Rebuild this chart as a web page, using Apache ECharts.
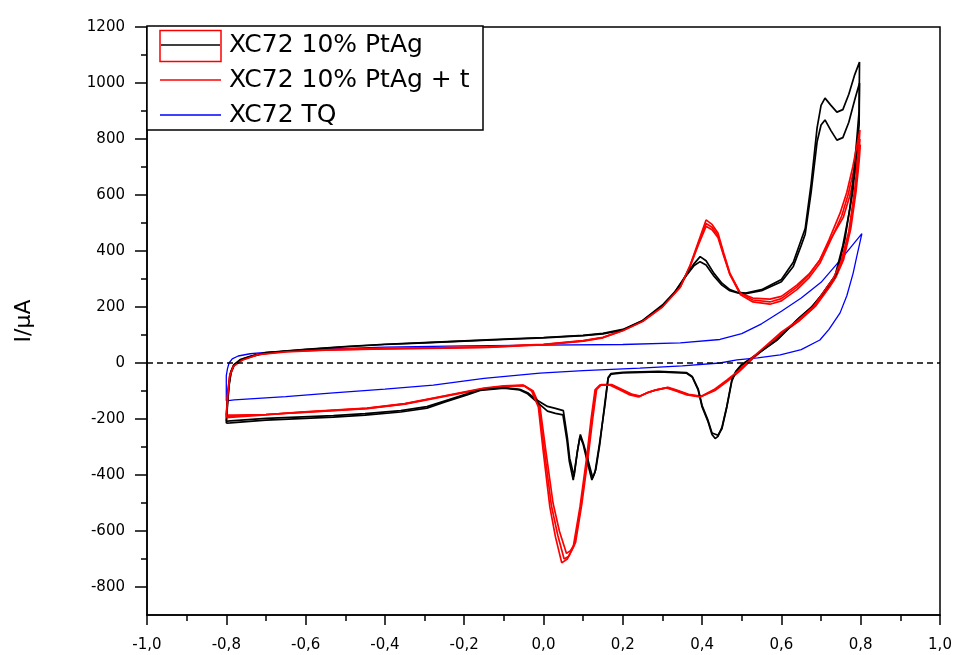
<!DOCTYPE html>
<html>
<head>
<meta charset="utf-8">
<script src="https://cdn.jsdelivr.net/npm/echarts@6/dist/echarts.min.js"></script>
<style>
  html, body { margin: 0; padding: 0; background: #fff; }
  #chart { width: 955px; height: 655px; }
</style>
</head>
<body>
<div id="chart"></div>
<script>
// Cyclic voltammograms: potential (V) vs current I (µA)
const seriesNames = ['XC72 10% PtAg', 'XC72 10% PtAg + t', 'XC72 TQ'];

const xTickValues = [-1, -0.8, -0.6, -0.4, -0.2, 0, 0.2, 0.4, 0.6, 0.8, 1];
const xTickLabels = ['-1,0', '-0,8', '-0,6', '-0,4', '-0,2', '0,0', '0,2', '0,4', '0,6', '0,8', '1,0'];
const yTickValues = [-800, -600, -400, -200, 0, 200, 400, 600, 800, 1000, 1200];
const yTickLabels = ['-800', '-600', '-400', '-200', '0', '200', '400', '600', '800', '1000', '1200'];

// XC72 10% PtAg, cycle 1 (anodic sweep then cathodic sweep)
const pta1 = [
  [-0.800,-215],[-0.797,-150],[-0.793,-80],[-0.788,-35],[-0.780,-8],[-0.765,10],[-0.740,22],[-0.700,36],
  [-0.600,48],[-0.500,58],[-0.400,66],[-0.300,72],[-0.200,78],[-0.100,84],[0.000,90],[0.100,98],
  [0.150,104],[0.200,118],[0.250,150],[0.300,205],[0.330,250],[0.360,315],[0.380,355],[0.395,380],
  [0.410,365],[0.430,320],[0.450,285],[0.470,262],[0.490,252],[0.510,250],[0.550,262],[0.600,298],
  [0.630,360],[0.650,440],[0.660,480],[0.675,640],[0.690,840],[0.700,920],[0.710,946],[0.725,920],
  [0.740,896],[0.755,905],[0.770,960],[0.785,1030],[0.797,1075],
  [0.800,1070],[0.796,900],[0.790,796],[0.780,640],[0.773,557],[0.760,440],[0.740,321],[0.705,250],
  [0.680,205],[0.647,164],[0.589,82],[0.528,21],[0.500,-5],[0.485,-30],[0.475,-60],[0.462,-157],
  [0.450,-230],[0.440,-262],[0.433,-270],[0.425,-255],[0.415,-210],[0.400,-157],[0.390,-96],[0.375,-50],
  [0.360,-36],[0.290,-32],[0.200,-35],[0.170,-40],[0.163,-55],[0.155,-150],[0.140,-300],[0.130,-390],
  [0.122,-418],[0.110,-350],[0.100,-290],[0.092,-262],[0.085,-320],[0.075,-418],[0.065,-350],[0.059,-275],
  [0.049,-185],[0.030,-180],[0.010,-172],[-0.017,-139],[-0.040,-110],[-0.060,-96],[-0.100,-90],[-0.160,-98],
  [-0.193,-114],[-0.250,-140],[-0.294,-161],[-0.360,-175],[-0.450,-186],[-0.530,-193],[-0.700,-204],
  [-0.790,-214],[-0.800,-215]
];

// XC72 10% PtAg, cycle 2
const pta2 = [
  [-0.800,-208],[-0.797,-140],[-0.793,-75],[-0.788,-30],[-0.780,-5],[-0.765,12],[-0.740,24],[-0.700,37],
  [-0.600,49],[-0.500,59],[-0.400,67],[-0.300,73],[-0.200,79],[-0.100,85],[0.000,91],[0.100,99],
  [0.150,106],[0.200,120],[0.250,152],[0.300,207],[0.330,252],[0.360,312],[0.380,348],[0.395,362],
  [0.410,350],[0.430,310],[0.450,278],[0.470,258],[0.490,250],[0.510,248],[0.550,258],[0.600,290],
  [0.630,345],[0.650,420],[0.660,460],[0.675,610],[0.690,790],[0.700,850],[0.710,868],[0.725,830],
  [0.740,796],[0.755,805],[0.770,860],[0.785,940],[0.797,1000],
  [0.800,995],[0.796,850],[0.790,760],[0.780,610],[0.770,530],[0.755,420],[0.735,310],[0.700,240],
  [0.675,198],[0.640,155],[0.585,78],[0.525,18],[0.500,-8],[0.485,-32],[0.475,-65],[0.462,-160],
  [0.450,-235],[0.440,-258],[0.435,-262],[0.425,-250],[0.415,-205],[0.400,-152],[0.390,-92],[0.375,-48],
  [0.360,-34],[0.290,-30],[0.200,-33],[0.170,-38],[0.163,-52],[0.155,-140],[0.142,-290],[0.132,-380],
  [0.124,-410],[0.112,-345],[0.100,-285],[0.093,-255],[0.086,-310],[0.077,-405],[0.066,-340],[0.060,-265],
  [0.050,-170],[0.030,-162],[0.010,-155],[-0.017,-132],[-0.040,-106],[-0.060,-94],[-0.100,-88],[-0.160,-95],
  [-0.193,-110],[-0.250,-136],[-0.294,-156],[-0.360,-170],[-0.450,-181],[-0.530,-188],[-0.700,-198],
  [-0.790,-207],[-0.800,-208]
];

// XC72 10% PtAg + t, cycles 1-3
const ptat1 = [
  [-0.800,-195],[-0.796,-110],[-0.791,-45],[-0.782,-12],[-0.760,10],[-0.720,30],[-0.650,40],[-0.550,46],
  [-0.400,50],[-0.250,53],[-0.140,56],[-0.050,62],[0.000,65],[0.100,78],[0.150,90],[0.200,115],
  [0.250,148],[0.300,200],[0.345,271],[0.370,350],[0.390,430],[0.410,511],[0.425,495],[0.440,464],
  [0.455,390],[0.470,321],[0.496,250],[0.528,225],[0.571,218],[0.600,230],[0.639,271],[0.670,315],
  [0.697,368],[0.720,440],[0.748,535],[0.765,610],[0.780,700],[0.798,832],
  [0.800,835],[0.795,760],[0.785,620],[0.770,470],[0.750,360],[0.730,300],[0.715,271],[0.680,200],
  [0.640,150],[0.597,107],[0.560,60],[0.528,21],[0.513,0],[0.490,-30],[0.462,-61],[0.430,-95],
  [0.395,-121],[0.362,-114],[0.330,-98],[0.310,-89],[0.280,-98],[0.260,-107],[0.240,-121],[0.218,-114],
  [0.193,-96],[0.168,-79],[0.142,-79],[0.130,-96],[0.120,-200],[0.109,-336],[0.092,-514],[0.075,-657],
  [0.060,-700],[0.046,-714],[0.030,-620],[0.016,-514],[-0.001,-311],[-0.013,-157],[-0.030,-100],[-0.052,-79],
  [-0.100,-82],[-0.150,-90],[-0.278,-125],[-0.350,-145],[-0.445,-161],[-0.614,-175],[-0.700,-185],
  [-0.783,-193],[-0.800,-195]
];
const ptat2 = [
  [-0.800,-190],[-0.796,-105],[-0.791,-42],[-0.782,-10],[-0.760,12],[-0.720,31],[-0.650,41],[-0.550,47],
  [-0.400,51],[-0.250,54],[-0.140,57],[-0.050,63],[0.000,66],[0.100,79],[0.150,91],[0.200,116],
  [0.250,150],[0.300,202],[0.345,272],[0.370,348],[0.390,425],[0.410,498],[0.425,485],[0.440,455],
  [0.455,385],[0.470,318],[0.496,245],[0.528,218],[0.571,210],[0.600,222],[0.639,262],[0.670,305],
  [0.697,356],[0.720,425],[0.752,525],[0.768,600],[0.783,690],[0.798,800],
  [0.800,800],[0.795,735],[0.786,610],[0.772,470],[0.753,360],[0.733,300],[0.718,268],[0.683,200],
  [0.643,150],[0.600,106],[0.563,60],[0.530,20],[0.515,0],[0.492,-30],[0.464,-62],[0.432,-96],
  [0.397,-120],[0.364,-113],[0.332,-97],[0.312,-88],[0.282,-97],[0.262,-106],[0.242,-119],[0.220,-112],
  [0.195,-95],[0.170,-78],[0.144,-78],[0.132,-95],[0.122,-200],[0.111,-336],[0.094,-514],[0.078,-650],
  [0.064,-690],[0.052,-700],[0.036,-615],[0.020,-510],[0.002,-311],[-0.011,-157],[-0.028,-100],[-0.050,-80],
  [-0.100,-83],[-0.150,-91],[-0.278,-126],[-0.350,-146],[-0.445,-162],[-0.614,-176],[-0.700,-184],
  [-0.783,-190],[-0.800,-190]
];
const ptat3 = [
  [-0.800,-185],[-0.796,-100],[-0.791,-40],[-0.782,-8],[-0.760,13],[-0.720,32],[-0.650,42],[-0.550,48],
  [-0.400,52],[-0.250,55],[-0.140,58],[-0.050,64],[0.000,67],[0.100,80],[0.150,92],[0.200,117],
  [0.250,151],[0.300,203],[0.345,272],[0.370,346],[0.390,420],[0.410,488],[0.425,476],[0.440,448],
  [0.455,380],[0.470,316],[0.496,250],[0.528,232],[0.571,228],[0.600,238],[0.639,278],[0.670,318],
  [0.697,368],[0.720,432],[0.756,520],[0.772,595],[0.786,680],[0.799,780],
  [0.801,780],[0.796,720],[0.788,610],[0.775,480],[0.757,370],[0.737,305],[0.722,272],[0.686,203],
  [0.646,152],[0.603,108],[0.566,62],[0.532,21],[0.516,0],[0.494,-30],[0.466,-63],[0.434,-97],
  [0.399,-119],[0.366,-112],[0.334,-96],[0.314,-87],[0.284,-96],[0.264,-105],[0.244,-118],[0.222,-111],
  [0.197,-94],[0.172,-77],[0.146,-77],[0.134,-94],[0.124,-200],[0.113,-330],[0.097,-500],[0.081,-640],
  [0.068,-670],[0.058,-680],[0.040,-600],[0.024,-500],[0.005,-305],[-0.009,-155],[-0.026,-100],[-0.048,-81],
  [-0.100,-84],[-0.150,-92],[-0.278,-127],[-0.350,-147],[-0.445,-163],[-0.614,-177],[-0.700,-184],
  [-0.783,-186],[-0.800,-185]
];

// XC72 TQ, single cycle
const tq = [
  [-0.800,-45],[-0.797,-20],[-0.793,0],[-0.785,15],[-0.770,25],[-0.740,33],[-0.700,38],[-0.600,46],
  [-0.500,52],[-0.400,57],[-0.200,61],[0.000,64],[0.200,66],[0.345,72],[0.445,84],[0.500,105],
  [0.550,140],[0.600,185],[0.650,232],[0.700,288],[0.750,370],[0.803,462],
  [0.800,455],[0.790,380],[0.781,321],[0.765,240],[0.748,179],[0.720,120],[0.697,82],[0.650,48],
  [0.597,29],[0.540,18],[0.488,11],[0.445,0],[0.350,-10],[0.243,-18],[0.100,-27],[-0.009,-36],
  [-0.150,-55],[-0.278,-79],[-0.400,-93],[-0.530,-107],[-0.650,-120],[-0.780,-132],[-0.800,-135],
  [-0.800,-45]
];

const seriesColors = ['#000000', '#ff0000', '#0000ff'];

function cvSeries(name, data, color, width) {
  return {
    name: name,
    type: 'line',
    xAxisIndex: 0,
    yAxisIndex: 0,
    data: data,
    showSymbol: false,
    symbol: 'none',
    smooth: false,
    animation: false,
    lineStyle: { color: color, width: width },
    itemStyle: { color: color },
    emphasis: { disabled: true }
  };
}

const tickFont = { fontFamily: 'DejaVu Sans', fontSize: 15, color: '#000' };

const series = [
  cvSeries(seriesNames[2], tq, seriesColors[2], 1.3),
  cvSeries(seriesNames[1], ptat3, seriesColors[1], 1.7),
  cvSeries(seriesNames[1], ptat2, seriesColors[1], 1.7),
  cvSeries(seriesNames[0], pta2, seriesColors[0], 1.7),
  cvSeries(seriesNames[0], pta1, seriesColors[0], 1.7),
  cvSeries(seriesNames[1], ptat1, seriesColors[1], 1.7)
];
// zero-current reference line
series[0].markLine = {
  silent: true,
  symbol: 'none',
  label: { show: false },
  animation: false,
  lineStyle: { color: '#000', width: 1.5, type: [6, 4] },
  data: [{ yAxis: 0 }]
};

// Legend drawn as a framed box in the upper-left corner of the plot
const legendLeft = 147, legendTop = 26, rowY = [45, 80, 115];
const legendGraphics = [
  { type: 'rect', z: 100, shape: { x: legendLeft, y: legendTop, width: 336, height: 104 },
    style: { fill: '#fff', stroke: '#000', lineWidth: 1.5 } },
  { type: 'rect', z: 101, shape: { x: 160, y: 30.5, width: 61, height: 31 },
    style: { fill: null, stroke: '#ff0000', lineWidth: 1.5 } },
  { type: 'line', z: 101, shape: { x1: 161, y1: rowY[0], x2: 220, y2: rowY[0] },
    style: { stroke: seriesColors[0], lineWidth: 1.5 } },
  { type: 'line', z: 101, shape: { x1: 160, y1: rowY[1], x2: 221, y2: rowY[1] },
    style: { stroke: seriesColors[1], lineWidth: 1.5 } },
  { type: 'line', z: 101, shape: { x1: 160, y1: rowY[2], x2: 221, y2: rowY[2] },
    style: { stroke: seriesColors[2], lineWidth: 1.5 } }
];
seriesNames.forEach(function (n, i) {
  legendGraphics.push({
    type: 'text', z: 101, x: 229, y: rowY[i],
    style: { text: n, font: '25px "DejaVu Sans"', fill: '#000', verticalAlign: 'middle' }
  });
});

const chart = echarts.init(document.getElementById('chart'), null, { renderer: 'canvas' });
chart.setOption({
  animation: false,
  backgroundColor: '#fff',
  grid: [
    { left: 147, right: 15, top: 27, bottom: 40, show: true, borderColor: '#000', borderWidth: 1.5,
      backgroundColor: 'transparent', outerBoundsMode: 'none', containLabel: false },
    { left: 147, right: 15, top: 27, bottom: 68, outerBoundsMode: 'none', containLabel: false }
  ],
  xAxis: [
    {
      gridIndex: 0, type: 'value', min: -1, max: 1, interval: 0.2,
      axisLine: { show: true, onZero: false, lineStyle: { color: '#000', width: 1.5 } },
      axisTick: { show: true, length: 10, lineStyle: { color: '#000', width: 1.5 } },
      minorTick: { show: true, splitNumber: 2, length: 6, lineStyle: { color: '#000', width: 1.5 } },
      splitLine: { show: false },
      axisLabel: Object.assign({ margin: 23, formatter: function (v) {
        const i = xTickValues.findIndex(function (t) { return Math.abs(t - v) < 1e-6; });
        return i >= 0 ? xTickLabels[i] : '';
      } }, tickFont)
    },
    { gridIndex: 1, type: 'value', min: -1, max: 1, show: false }
  ],
  yAxis: [
    {
      gridIndex: 0, type: 'value', min: -900, max: 1200,
      axisLine: { show: true, onZero: false, lineStyle: { color: '#000', width: 1.5 } },
      axisTick: { show: false },
      axisLabel: { show: false },
      splitLine: { show: false },
      name: 'I/µA', nameLocation: 'middle', nameGap: 112, nameRotate: 90,
      nameTextStyle: { fontFamily: 'DejaVu Sans', fontSize: 22, color: '#000' }
    },
    {
      gridIndex: 1, type: 'value', min: -800, max: 1200, interval: 200,
      axisLine: { show: false, onZero: false },
      axisTick: { show: true, length: 12, lineStyle: { color: '#000', width: 1.5 } },
      minorTick: { show: true, splitNumber: 2, length: 6, lineStyle: { color: '#000', width: 1.5 } },
      splitLine: { show: false },
      axisLabel: Object.assign({ margin: 22, formatter: function (v) {
        const i = yTickValues.indexOf(v);
        return i >= 0 ? yTickLabels[i] : '';
      } }, tickFont)
    }
  ],
  series: series,
  graphic: legendGraphics
});
</script>
</body>
</html>
